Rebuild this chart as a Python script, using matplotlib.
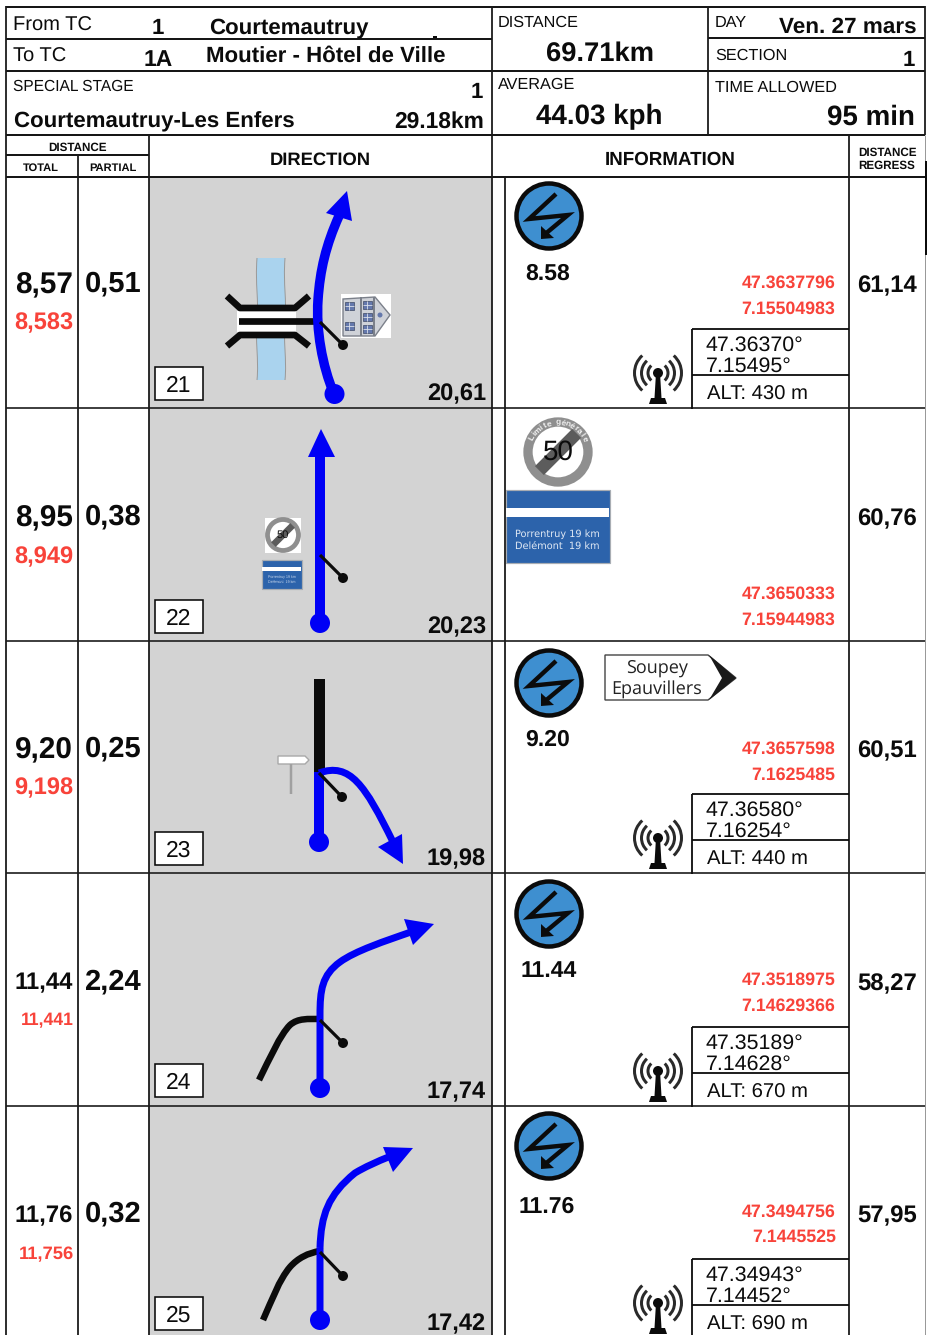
import math

import matplotlib
matplotlib.use("Agg")
import matplotlib.pyplot as plt
from matplotlib.patches import Arc, Circle, PathPatch, Polygon, Rectangle
from matplotlib.path import Path

plt.rcParams["font.family"] = ["Liberation Sans", "DejaVu Sans"]
plt.rcParams["text.hinting"] = "no_hinting"

# table values, one entry per row
TOTALS = ["8,57", "8,95", "9,20", "11,44", "11,76"]
TOTALS_RED = ["8,583", "8,949", "9,198", "11,441", "11,756"]
PARTIALS = ["0,51", "0,38", "0,25", "2,24", "0,32"]
BOX_NUMS = ["21", "22", "23", "24", "25"]
REMAINING = ["20,61", "20,23", "19,98", "17,74", "17,42"]
REGRESS = ["61,14", "60,76", "60,51", "58,27", "57,95"]
INFO_KM = ["8.58", None, "9.20", "11.44", "11.76"]
RED_LAT = ["47.3637796", "47.3650333", "47.3657598", "47.3518975", "47.3494756"]
RED_LON = ["7.15504983", "7.15944983", "7.1625485", "7.14629366", "7.1445525"]
GPS_LAT = ["47.36370°", None, "47.36580°", "47.35189°", "47.34943°"]
GPS_LON = ["7.15495°", None, "7.16254°", "7.14628°", "7.14452°"]
ALTS = ["ALT: 430 m", None, "ALT: 440 m", "ALT: 670 m", "ALT: 690 m"]

# layout in reference pixels
ROW_TOPS = [177, 408, 640.5, 873, 1105.5, 1338]
TOTAL_Y = [283, 516, 748, 981, 1214]
TOTAL_SIZE = [21.4, 21.4, 21.4, 17.2, 17.2]
RED_Y = [321, 555, 786, 1019, 1253]
RED_SIZE = [17, 17, 17, 12.7, 13.2]
PARTIAL_Y = [282, 515, 747, 980, 1212]
BOX_Y = [367, 600, 832, 1064, 1297]
REMAIN_Y = [392, 625, 857, 1090, 1322]
REGRESS_Y = [284, 517, 749, 982, 1214]
INFO_Y = [272, None, 738, 969, 1205]
INFO_X = [548, None, 548, 549, 547]
RED_LAT_Y = [282, 593, 748, 979, 1211]
RED_LON_Y = [308, 619, 774, 1005, 1236]
GPS_TOP = [329, None, 794, 1027, 1259]
ICON_Y = [216, None, 683, 914, 1146]

# road drawings: (vertices, width in px); vertices are M, then cubic triples
BLUE_ROADS = [
    [([(334, 394), (322, 365), (316, 330), (318, 300), (320, 270), (326, 245), (339, 216)], 9.5)],
    [([(320, 623), (320, 590), (320, 500), (320, 455)], 10)],
    [([(319, 842), (319, 820), (319, 790), (319, 772)], 10),
     ([(319, 773), (350, 762), (365, 785), (393, 842)], 7)],
    [([(320, 1088), (320, 1060), (320, 1040), (320, 1015)], 7),
     ([(320, 1015), (320, 990), (322, 975), (340, 962), (355, 951), (385, 941), (411, 932)], 7)],
    [([(320, 1320), (320, 1295), (320, 1275), (320, 1248)], 7),
     ([(320, 1248), (321, 1215), (328, 1195), (355, 1173), (365, 1167), (376, 1162), (391, 1156)], 7)],
]
BLACK_ROADS = [
    [([(239, 321.5), (265, 321.5), (290, 321.5), (316, 321.5)], 6.7)],
    [],
    [([(319.5, 679), (319.5, 710), (319.5, 740), (319.5, 773)], 11)],
    [([(259, 1080), (270, 1058), (280, 1035), (290, 1025), (298, 1018), (308, 1019), (320, 1019)], 6.5)],
    [([(263, 1320), (272, 1300), (279, 1280), (290, 1267), (298, 1258), (308, 1253), (320, 1251)], 6.5)],
]
ARROWS = [
    [(347, 191), (326, 213), (352, 221)],
    [(321, 429), (308, 457), (335, 457)],
    [(403, 864), (378, 847), (402, 834)],
    [(434, 924), (404, 919), (413, 945)],
    [(413, 1148), (383, 1147), (393, 1172)],
]
ROAD_START = [(334.5, 394), (320, 623), (319, 842), (320, 1088), (320, 1320)]
POINTER = [[(320, 322), (343, 345)], [(320, 555), (343, 578)], [(319, 773), (342, 797)],
           [(320, 1020), (343, 1043)], [(320, 1252), (343, 1276)]]

BLUE = "#0000f6"
RED = "#f8433a"
PANEL = "#d3d3d3"
BLACK = "#0b0b0b"

fig = plt.figure(figsize=(9.28, 13.35), dpi=100, facecolor="white")
ax = fig.add_axes([0, 0, 1, 1])
ax.set_xlim(0, 928)
ax.set_ylim(1335, 0)
ax.axis("off")


def txt(x, y, s, size, bold=False, ha="left", color=BLACK, **kw):
    # y is the middle of the capital letters
    base = y + 0.34 * size * 100 / 72
    ax.text(x, base, s, fontsize=size, fontweight="bold" if bold else "normal",
            ha=ha, va="baseline", color=color, **kw)


def line(x0, y0, x1, y1, w=2.0, color=BLACK, z=5):
    ax.plot([x0, x1], [y0, y1], color=color, lw=w * 0.72, solid_capstyle="butt", zorder=z)


def rect(x0, y0, x1, y1, fc, ec="none", lw=0, z=2):
    ax.add_patch(Rectangle((x0, y0), x1 - x0, y1 - y0, fc=fc, ec=ec, lw=lw * 0.72, zorder=z))


def curve(verts, width, color, z=3):
    codes = [Path.MOVETO] + [Path.CURVE4] * (len(verts) - 1)
    ax.add_patch(PathPatch(Path(verts, codes), fc="none", ec=color, lw=width * 0.72,
                           capstyle="butt", zorder=z))


def bolt_icon(cx, cy):
    ax.add_patch(Circle((cx, cy), 32.5, fc="#3e8fd0", ec=BLACK, lw=4.5 * 0.72, zorder=3))
    pts = [(7, -22), (-20, 3), (19, -1), (-5, 19)]
    ax.plot([cx + p[0] for p in pts], [cy + p[1] for p in pts], color=BLACK, lw=4.4 * 0.72,
            solid_joinstyle="miter", solid_capstyle="butt", zorder=4)
    ax.add_patch(Polygon([(cx - 8, cy + 23), (cx - 8, cy + 10), (cx + 5, cy + 22)], fc=BLACK, zorder=4))


def antenna(cx, cy):
    for r, w in [(10, 3), (16.5, 3), (23.5, 3)]:
        for start in (-48, 132):
            ax.add_patch(Arc((cx, cy - 5), 2 * r, 2 * r, theta1=start, theta2=start + 96,
                             color="#2a2a2a", lw=w * 0.72, zorder=3))
    ax.add_patch(Circle((cx, cy - 5), 5, fc=BLACK, ec="none", zorder=4))
    ax.add_patch(Polygon([(cx - 2, cy - 5), (cx + 2, cy - 5), (cx + 3.5, cy + 20), (cx - 3.5, cy + 20)],
                         fc=BLACK, zorder=4))
    ax.add_patch(Polygon([(cx - 9, cy + 26), (cx - 7, cy + 20), (cx + 7, cy + 20), (cx + 9, cy + 26)],
                         fc=BLACK, zorder=4))


def bridge():
    rect(257, 258, 285, 380, "#aad3ee")
    for x in (257, 285):
        curve([(x, 258), (x - 2, 285), (x + 2, 300), (x, 320), (x - 2, 340), (x + 2, 360), (x, 380)],
              1, "#9a9a9a", z=2.1)
    rect(237, 311, 296, 332, "white", z=2.5)
    for pts in ([(227, 296), (240, 308), (295, 308), (309, 296)],
                [(227, 346), (240, 335), (295, 335), (309, 346)]):
        ax.plot(*zip(*pts), color=BLACK, lw=6.7 * 0.72, solid_capstyle="butt", zorder=2.6)


def house():
    rect(341, 294, 391, 338, "white")
    ax.add_patch(Polygon([(343, 299), (375, 297), (390, 315), (375, 336), (343, 336)],
                         fc="#cfd2d8", ec="#7b808a", lw=1, zorder=2.2))
    line(361, 297, 361, 336, 2, color="#7b808a", z=2.25)
    line(374, 297, 374, 336, 2, color="#7b808a", z=2.25)
    for wx, wy in [(345, 302), (345, 322), (363, 301), (363, 313), (363, 325)]:
        rect(wx, wy, wx + 9, wy + 8, "#6478ac", ec="#3f4a66", lw=0.7, z=2.3)
        line(wx + 4.5, wy, wx + 4.5, wy + 8, 0.8, color="#e0e4ee", z=2.35)
        line(wx, wy + 4, wx + 9, wy + 4, 0.8, color="#e0e4ee", z=2.35)
    ax.add_patch(Circle((380, 315), 2.5, fc="#6478ac", ec="none", zorder=2.3))


def speed_sign(cx, cy, r, size):
    ax.add_patch(Circle((cx, cy), r, fc="white", ec="#8f8f8f", lw=r * 0.31 * 0.72, zorder=3))
    ax.plot([cx - r * 0.62, cx + r * 0.62], [cy + r * 0.62, cy - r * 0.62], color="#5c5c5c",
            lw=r * 0.42 * 0.72, solid_capstyle="butt", zorder=3.2)
    ax.text(cx, cy + r * 0.03, "50", fontsize=size, ha="center", va="center", color=BLACK, zorder=3.4)


def blue_panel(x0, y0, x1, y1, split0, split1):
    rect(x0, y0, x1, y1, "#2c63ab", ec="#a8adb3", lw=1.2)
    rect(x0 + 0.5, split0, x1 - 0.5, split1, "white", z=2.5)


# panels and frame
for i in range(5):
    rect(149, ROW_TOPS[i], 492, ROW_TOPS[i + 1], PANEL, z=1)

for y, x0, x1 in [(7, 6, 925), (39, 6, 492), (38, 708, 925), (71, 6, 925), (135, 6, 925),
                  (155, 6, 149), (177, 6, 925)]:
    line(x0, y, x1, y, 1.9)
for y in ROW_TOPS[1:5]:
    line(6, y, 925, y, 1.7, color="#222222")
for x, y0, y1 in [(6.5, 6, 1335), (78, 155, 1335), (149, 135, 1335), (492, 6, 1335),
                  (505.5, 177, 1335), (708, 6, 135), (849, 135, 1335), (925, 6, 135)]:
    line(x, y0, x, y1, 1.8, color="#1a1a1a")
line(925, 135, 925, 1335, 1, color="#999999")
rect(925, 161, 928, 255, BLACK, z=6)
line(433, 36.5, 437, 36.5, 2)

# header
txt(13, 24, "From TC", 14.5)
txt(158, 26, "1", 16, True, ha="center")
txt(209, 26, "Courtemautruy", 16, True)
txt(13, 55, "To TC", 14.5)
txt(158.5, 58, "1A", 16.5, True, ha="center")
txt(206, 54, "Moutier - Hôtel de Ville", 16, True)
txt(13, 86, "SPECIAL STAGE", 11.2)
txt(483, 90, "1", 16, True, ha="right")
txt(14, 120, "Courtemautruy-Les Enfers", 16, True)
txt(484, 120, "29.18km", 16.4, True, ha="right")
txt(77, 147, "DISTANCE", 8.4, True, ha="center")
txt(41, 167, "TOTAL", 8, True, ha="center")
txt(113, 167, "PARTIAL", 8, True, ha="center")
txt(320, 159, "DIRECTION", 13.2, True, ha="center")
txt(670, 158, "INFORMATION", 13.5, True, ha="center")
txt(887, 152, "DISTANCE", 8.4, True, ha="center")
txt(887, 165, "REGRESS", 8.4, True, ha="center")
txt(498, 21, "DISTANCE", 11.7)
txt(600, 51, "69.71km", 19.7, True, ha="center")
txt(498, 83, "AVERAGE", 11.7)
txt(599.5, 115, "44.03 kph", 20, True, ha="center")
txt(715, 21, "DAY", 11.7)
txt(917, 25, "Ven. 27 mars", 16.2, True, ha="right")
txt(715, 54, "SECTION", 11.7)
txt(915, 58, "1", 16, True, ha="right")
txt(715, 86, "TIME ALLOWED", 11.7)
txt(915, 115, "95 min", 20, True, ha="right")

# rows
for i in range(5):
    txt(73, TOTAL_Y[i], TOTALS[i], TOTAL_SIZE[i], True, ha="right")
    txt(74 if i > 2 else 73, RED_Y[i], TOTALS_RED[i], RED_SIZE[i], True, ha="right", color=RED)
    txt(142, PARTIAL_Y[i], PARTIALS[i], 21, True, ha="right")
    rect(155, BOX_Y[i], 203, BOX_Y[i] + 33, "white", ec=BLACK, lw=1.6, z=4)
    txt(179, BOX_Y[i] + 17, BOX_NUMS[i], 16.5, ha="center", zorder=5)
    txt(486, REMAIN_Y[i], REMAINING[i], 17, True, ha="right", zorder=5)
    txt(917, REGRESS_Y[i], REGRESS[i], 17.2, True, ha="right")
    right = 836 if i == 4 else 835.5
    txt(right, RED_LAT_Y[i], RED_LAT[i], 12.8, True, ha="right", color=RED)
    txt(right, RED_LON_Y[i], RED_LON[i], 12.8, True, ha="right", color=RED)

    for verts, w in BLACK_ROADS[i]:
        curve(verts, w, BLACK, z=3)
    for verts, w in BLUE_ROADS[i]:
        curve(verts, w, BLUE, z=3.2)
    ax.add_patch(Polygon(ARROWS[i], fc=BLUE, ec="none", zorder=3.3))
    ax.add_patch(Circle(ROAD_START[i], 10, fc=BLUE, ec="none", zorder=3.3))
    (px0, py0), (px1, py1) = POINTER[i]
    line(px0, py0, px1, py1, 3.2, z=3.5)
    ax.add_patch(Circle((px1, py1), 5, fc=BLACK, ec="none", zorder=3.5))

    if INFO_KM[i] is not None:
        bolt_icon(549, ICON_Y[i])
        txt(INFO_X[i], INFO_Y[i], INFO_KM[i], 16.6, True, ha="center")
        top = GPS_TOP[i]
        line(692, top, 849, top, 1.8)
        line(692, top + 46, 849, top + 46, 1.8)
        line(692, top, 692, min(top + 80, 1335), 1.8)
        txt(706, top + 15, GPS_LAT[i], 15.4)
        txt(706, top + 36, GPS_LON[i], 15.4)
        txt(707, top + 64, ALTS[i], 14.6)
        antenna(658, top + 49)

bridge()
house()

# row 2 signs
rect(265, 518, 301, 553, "white", z=2)
speed_sign(283, 535, 15.5, 8)
blue_panel(262, 560, 302, 589, 567, 571)
txt(282, 577, "Porrentruy 19 km", 2.6, ha="center", color="#c9d8ec", zorder=4)
txt(282, 583, "Delémont  19 km", 2.6, ha="center", color="#c9d8ec", zorder=4)
speed_sign(558, 452, 30, 20)
for ch, ang in zip("Limite générale", range(-62, 70, 9)):
    ax.text(558 + 29.5 * math.sin(math.radians(ang)), 452 - 29.5 * math.cos(math.radians(ang)), ch,
            fontsize=6, fontweight="bold", color="#f2f2f2", rotation=-ang,
            ha="center", va="center", zorder=4)
blue_panel(506, 490, 610, 563, 508, 517)
for y, s in [(534, "Porrentruy 19 km"), (546, "Delémont  19 km")]:
    ax.text(515, y, s, fontsize=7, family="DejaVu Sans", color="#dfe8f4", va="center", zorder=4)

# row 3 signs
ax.add_patch(Polygon([(605, 655), (708, 655), (736, 678), (708, 700), (605, 700)],
                     fc="white", ec="#444444", lw=1, zorder=3))
ax.add_patch(Polygon([(709, 655), (736, 678), (709, 700), (722, 678)], fc="#1a1a1a", zorder=3.2))
for y, s in [(668, "Soupey"), (689, "Epauvillers")]:
    ax.text(657, y, s, fontsize=13, ha="center", va="center", color="#222222",
            family="Open Sans", zorder=4)
ax.add_patch(Polygon([(278, 756), (305, 756), (309, 760), (305, 764), (278, 764)],
                     fc="white", ec="#a8a8a8", lw=1, zorder=2))
line(291.5, 764, 291.5, 794, 2.5, color="#a0a0a0", z=2)

fig.savefig("out.png", dpi=100, facecolor="white")
